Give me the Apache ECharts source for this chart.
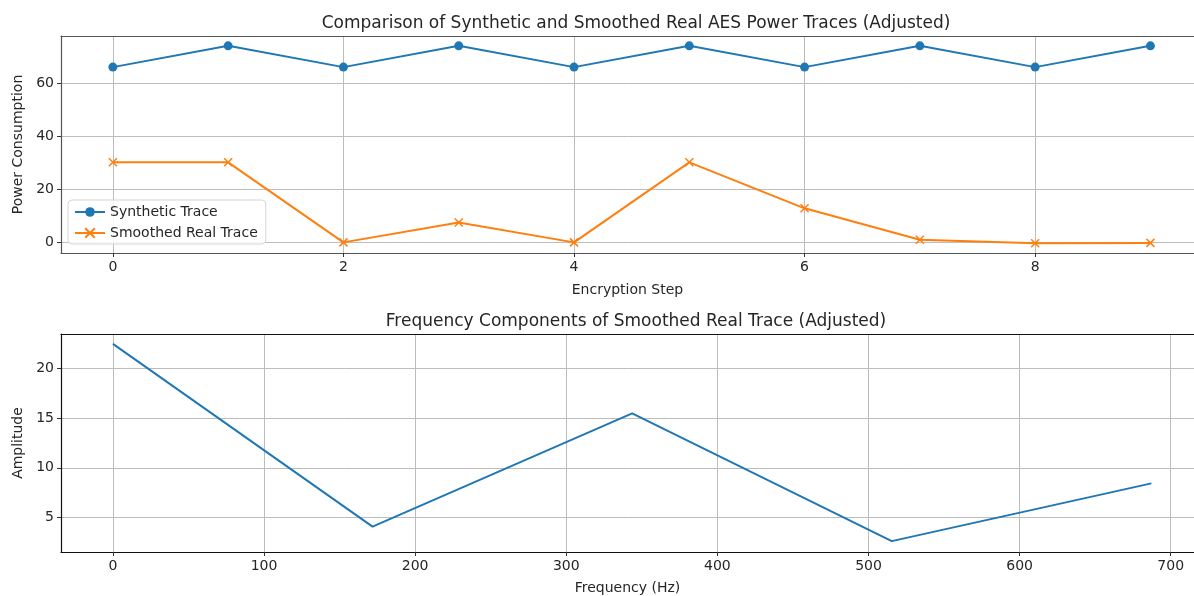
<!DOCTYPE html>
<html>
<head>
<meta charset="utf-8">
<script src="https://cdn.jsdelivr.net/npm/echarts@6/dist/echarts.min.js"></script>
<style>
  html, body { margin: 0; padding: 0; background: #fff; }
  #chart { width: 1194px; height: 596px; }
</style>
</head>
<body>
<div id="chart"></div>
<script>
// Encryption steps and the two power traces
const steps = [0, 1, 2, 3, 4, 5, 6, 7, 8, 9];
const syntheticTrace = [66, 74, 66, 74, 66, 74, 66, 74, 66, 74];
const smoothedRealTrace = [30.2, 30.2, 0.1, 7.6, 0.1, 30.2, 12.9, 1.1, -0.2, -0.1];

// Frequency spectrum of the smoothed real trace
const frequencies = [0, 171.8, 343.6, 515.4, 687.2];
const amplitudes = [22.44, 4.1, 15.47, 2.64, 8.44];

// Tick labels
const stepTicks = [0, 2, 4, 6, 8];
const powerTicks = [0, 20, 40, 60];
const freqTicks = [0, 100, 200, 300, 400, 500, 600, 700];
const ampTicks = [5, 10, 15, 20];

const FONT = 'DejaVu Sans';
const TXT = '#262626';
const GRID = '#bdbdbd';

function valueAxis(gridIndex, min, max, ticks, name, nameGap, spineColor) {
  return {
    type: 'value', gridIndex, min, max,
    name, nameLocation: 'middle', nameGap,
    nameTextStyle: { fontFamily: FONT, fontSize: 14, color: TXT },
    axisLine: { show: true, onZero: false, lineStyle: { color: spineColor, width: 1.2 } },
    axisTick: { show: true, length: 4, customValues: ticks, lineStyle: { color: '#333' } },
    axisLabel: { customValues: ticks, fontFamily: FONT, fontSize: 14, color: TXT, margin: 7 },
    splitLine: { show: true, lineStyle: { color: GRID, width: 1 } }
  };
}

// Top spine of each panel (the right side runs off the canvas edge)
function topSpine(gridIndex, min, max, color) {
  return {
    type: 'value', gridIndex, min, max, position: 'top',
    axisLine: { show: true, onZero: false, lineStyle: { color, width: 1.2 } },
    axisTick: { show: false }, axisLabel: { show: false }, splitLine: { show: false }
  };
}

const chart = echarts.init(document.getElementById('chart'), null, { renderer: 'canvas' });

chart.setOption({
  animation: false,
  backgroundColor: '#fff',
  title: [
    { text: 'Comparison of Synthetic and Smoothed Real AES Power Traces (Adjusted)', left: 631, top: 10, textAlign: 'center',
      textStyle: { fontFamily: FONT, fontSize: 17, fontWeight: 'normal', color: TXT } },
    { text: 'Frequency Components of Smoothed Real Trace (Adjusted)', left: 631, top: 308, textAlign: 'center',
      textStyle: { fontFamily: FONT, fontSize: 17, fontWeight: 'normal', color: TXT } }
  ],
  grid: [
    { left: 61, right: 0, top: 36, bottom: 343, show: false },
    { left: 61, right: 0, top: 334, bottom: 44, show: false }
  ],
  legend: {
    left: 68, top: 200, orient: 'vertical', itemGap: 7, itemWidth: 30, itemHeight: 12,
    backgroundColor: 'rgba(255,255,255,0.85)', borderColor: '#d5d5d5', borderWidth: 1, borderRadius: 4,
    padding: [5, 8, 4, 6],
    textStyle: { fontFamily: FONT, fontSize: 14, color: TXT },
    data: ['Synthetic Trace', 'Smoothed Real Trace']
  },
  xAxis: [
    valueAxis(0, -0.45, 9.378, stepTicks, 'Encryption Step', 30, '#555'),
    valueAxis(1, -34.36, 715.4, freqTicks, 'Frequency (Hz)', 29, '#111'),
    topSpine(0, -0.45, 9.378, '#555'),
    topSpine(1, -34.36, 715.4, '#111')
  ],
  yAxis: [
    valueAxis(0, -3.9, 77.7, powerTicks, 'Power Consumption', 36, '#555'),
    valueAxis(1, 1.55, 23.43, ampTicks, 'Amplitude', 36, '#111')
  ],
  series: [
    {
      name: 'Synthetic Trace', type: 'line', xAxisIndex: 0, yAxisIndex: 0,
      data: steps.map((s, i) => [s, syntheticTrace[i]]),
      symbol: 'circle', symbolSize: 9, showAllSymbol: true,
      lineStyle: { color: '#1f77b4', width: 2 },
      itemStyle: { color: '#1f77b4' }
    },
    {
      name: 'Smoothed Real Trace', type: 'line', xAxisIndex: 0, yAxisIndex: 0,
      data: steps.map((s, i) => [s, smoothedRealTrace[i]]),
      symbol: 'path://M0,0L10,10M10,0L0,10', symbolSize: 8, showAllSymbol: true,
      lineStyle: { color: '#ff7f0e', width: 2 },
      itemStyle: { color: 'rgba(0,0,0,0)', borderColor: '#ff7f0e', borderWidth: 1.5 }
    },
    {
      name: 'Amplitude', type: 'line', xAxisIndex: 1, yAxisIndex: 1,
      data: frequencies.map((f, i) => [f, amplitudes[i]]),
      symbol: 'none',
      lineStyle: { color: '#1f77b4', width: 2 }
    }
  ]
});
</script>
</body>
</html>
